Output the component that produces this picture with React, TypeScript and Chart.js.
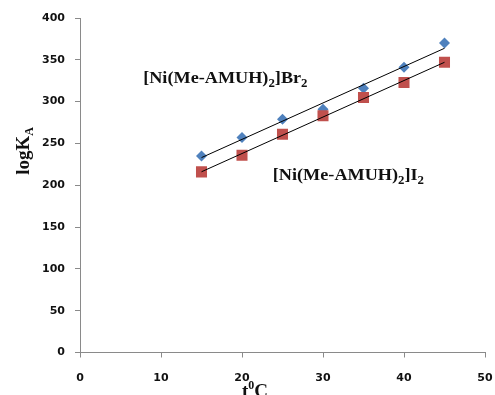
import React, { useEffect, useRef } from "react";
import { Chart, registerables } from "chart.js";

Chart.register(...registerables);

const temps = [15, 20, 25, 30, 35, 40, 45];
const brValues = [235, 257, 279, 291, 316, 341, 370];
const iValues = [216, 236, 261, 283, 305, 323, 347];
const xTicks = [0, 10, 20, 30, 40, 50];
const yTicks = [0, 50, 100, 150, 200, 250, 300, 350, 400];

function trend(xs: number[], ys: number[]) {
  const n = xs.length;
  const mx = xs.reduce((a, b) => a + b, 0) / n;
  const my = ys.reduce((a, b) => a + b, 0) / n;
  let sxy = 0, sxx = 0;
  for (let i = 0; i < n; i++) {
    sxy += (xs[i] - mx) * (ys[i] - my);
    sxx += (xs[i] - mx) * (xs[i] - mx);
  }
  const m = sxy / sxx;
  const b = my - m * mx;
  const x0 = xs[0], x1 = xs[n - 1];
  return [{ x: x0, y: m * x0 + b }, { x: x1, y: m * x1 + b }];
}

const SERIF = "'Liberation Serif', 'Times New Roman', serif";

function drawChem(ctx: CanvasRenderingContext2D, parts: [string, boolean][], x: number, y: number) {
  ctx.save();
  ctx.translate(x, y);
  ctx.scale(1.07, 1);
  let cx = 0;
  for (const [t, sub] of parts) {
    ctx.font = sub ? `bold 12px ${SERIF}` : `bold 17px ${SERIF}`;
    ctx.fillText(t, cx, sub ? 4 : 0);
    cx += ctx.measureText(t).width;
  }
  ctx.restore();
}

const labelsPlugin = {
  id: "labelsPlugin",
  afterDraw(chart: any) {
    const ctx = chart.ctx as CanvasRenderingContext2D;
    const xs = chart.scales.x;
    const ys = chart.scales.y;
    ctx.save();
    ctx.fillStyle = "#111";
    ctx.textBaseline = "alphabetic";
    ctx.textAlign = "left";
    drawChem(ctx, [["[Ni(Me-AMUH)", false], ["2", true], ["]Br", false], ["2", true]], xs.getPixelForValue(7.8), ys.getPixelForValue(322));
    drawChem(ctx, [["[Ni(Me-AMUH)", false], ["2", true], ["]I", false], ["2", true]], xs.getPixelForValue(23.8), ys.getPixelForValue(206));

    // y axis title
    ctx.save();
    ctx.translate(29, 151);
    ctx.rotate(-Math.PI / 2);
    ctx.font = `bold 19px ${SERIF}`;
    const w1 = ctx.measureText("logK").width;
    ctx.font = `bold 12px ${SERIF}`;
    const w2 = ctx.measureText("A").width;
    const start = -(w1 + w2) / 2;
    ctx.font = `bold 19px ${SERIF}`;
    ctx.fillText("logK", start, 0);
    ctx.font = `bold 12px ${SERIF}`;
    ctx.fillText("A", start + w1, 4);
    ctx.restore();

    // x axis title
    ctx.font = `bold 19px ${SERIF}`;
    const tw = ctx.measureText("t").width;
    ctx.font = `bold 12px ${SERIF}`;
    const zw = ctx.measureText("0").width;
    ctx.font = `bold 19px ${SERIF}`;
    const cw = ctx.measureText("C").width;
    let sx = 255 - (tw + zw + cw) / 2;
    const by = 397;
    ctx.fillText("t", sx, by);
    sx += tw;
    ctx.font = `bold 12px ${SERIF}`;
    ctx.fillText("0", sx, by - 8);
    sx += zw;
    ctx.font = `bold 19px ${SERIF}`;
    ctx.fillText("C", sx, by);
    ctx.restore();
  },
};

export default function App() {
  const ref = useRef<HTMLCanvasElement | null>(null);
  useEffect(() => {
    document.body.style.margin = "0";
    const canvas = ref.current!;
    const tickFont = { family: "'DejaVu Sans', sans-serif", size: 11, weight: "bold" as const };
    const chart = new Chart(canvas, {
      type: "scatter",
      data: {
        datasets: [
          {
            label: "Br2",
            data: temps.map((t, i) => ({ x: t, y: brValues[i] })),
            pointStyle: "rectRot",
            pointRadius: 5.5,
            backgroundColor: "#4F81BD",
            borderColor: "#4F81BD",
            borderWidth: 0,
            order: 2,
          },
          {
            label: "I2",
            data: temps.map((t, i) => ({ x: t, y: iValues[i] })),
            pointStyle: "rect",
            pointRadius: 7.8,
            backgroundColor: "#C0504D",
            borderColor: "#C0504D",
            borderWidth: 0,
            order: 1,
          },
          {
            label: "trendBr",
            type: "line",
            data: trend(temps, brValues),
            borderColor: "#000",
            borderWidth: 1,
            pointRadius: 0,
            showLine: true,
            fill: false,
            order: 0,
          } as any,
          {
            label: "trendI",
            type: "line",
            data: trend(temps, iValues),
            borderColor: "#000",
            borderWidth: 1,
            pointRadius: 0,
            showLine: true,
            fill: false,
            order: 0,
          } as any,
        ],
      },
      options: {
        responsive: false,
        animation: false,
        layout: { padding: { top: 18, right: 10, left: 0, bottom: 0 } },
        plugins: { legend: { display: false }, tooltip: { enabled: false } },
        scales: {
          x: {
            type: "linear",
            min: 0,
            max: 50,
            afterBuildTicks: (s: any) => { s.ticks = xTicks.map((v) => ({ value: v })); },
            afterFit: (s: any) => { s.height = 42.5; s.paddingRight = 0; s.paddingLeft = 0; },
            grid: { drawOnChartArea: false, drawTicks: true, tickLength: 5, color: "#8a8a8a" },
            border: { display: true, color: "#8a8a8a", width: 1 },
            ticks: { font: tickFont, color: "#111", padding: 14, maxRotation: 0 },
          },
          y: {
            type: "linear",
            min: 0,
            max: 400,
            afterBuildTicks: (s: any) => { s.ticks = yTicks.map((v) => ({ value: v })); },
            afterFit: (s: any) => { s.width = 80; s.paddingTop = 0; s.paddingBottom = 0; },
            grid: { drawOnChartArea: false, drawTicks: true, tickLength: 5, color: "#8a8a8a" },
            border: { display: true, color: "#8a8a8a", width: 1 },
            ticks: { font: tickFont, color: "#111", padding: 10 },
          },
        },
      },
      plugins: [labelsPlugin],
    });
    return () => chart.destroy();
  }, []);
  return (
    <div style={{ position: "absolute", left: 0, top: 0, width: 495, height: 395, background: "#fff" }}>
      <canvas ref={ref} width={495} height={395} />
    </div>
  );
}
